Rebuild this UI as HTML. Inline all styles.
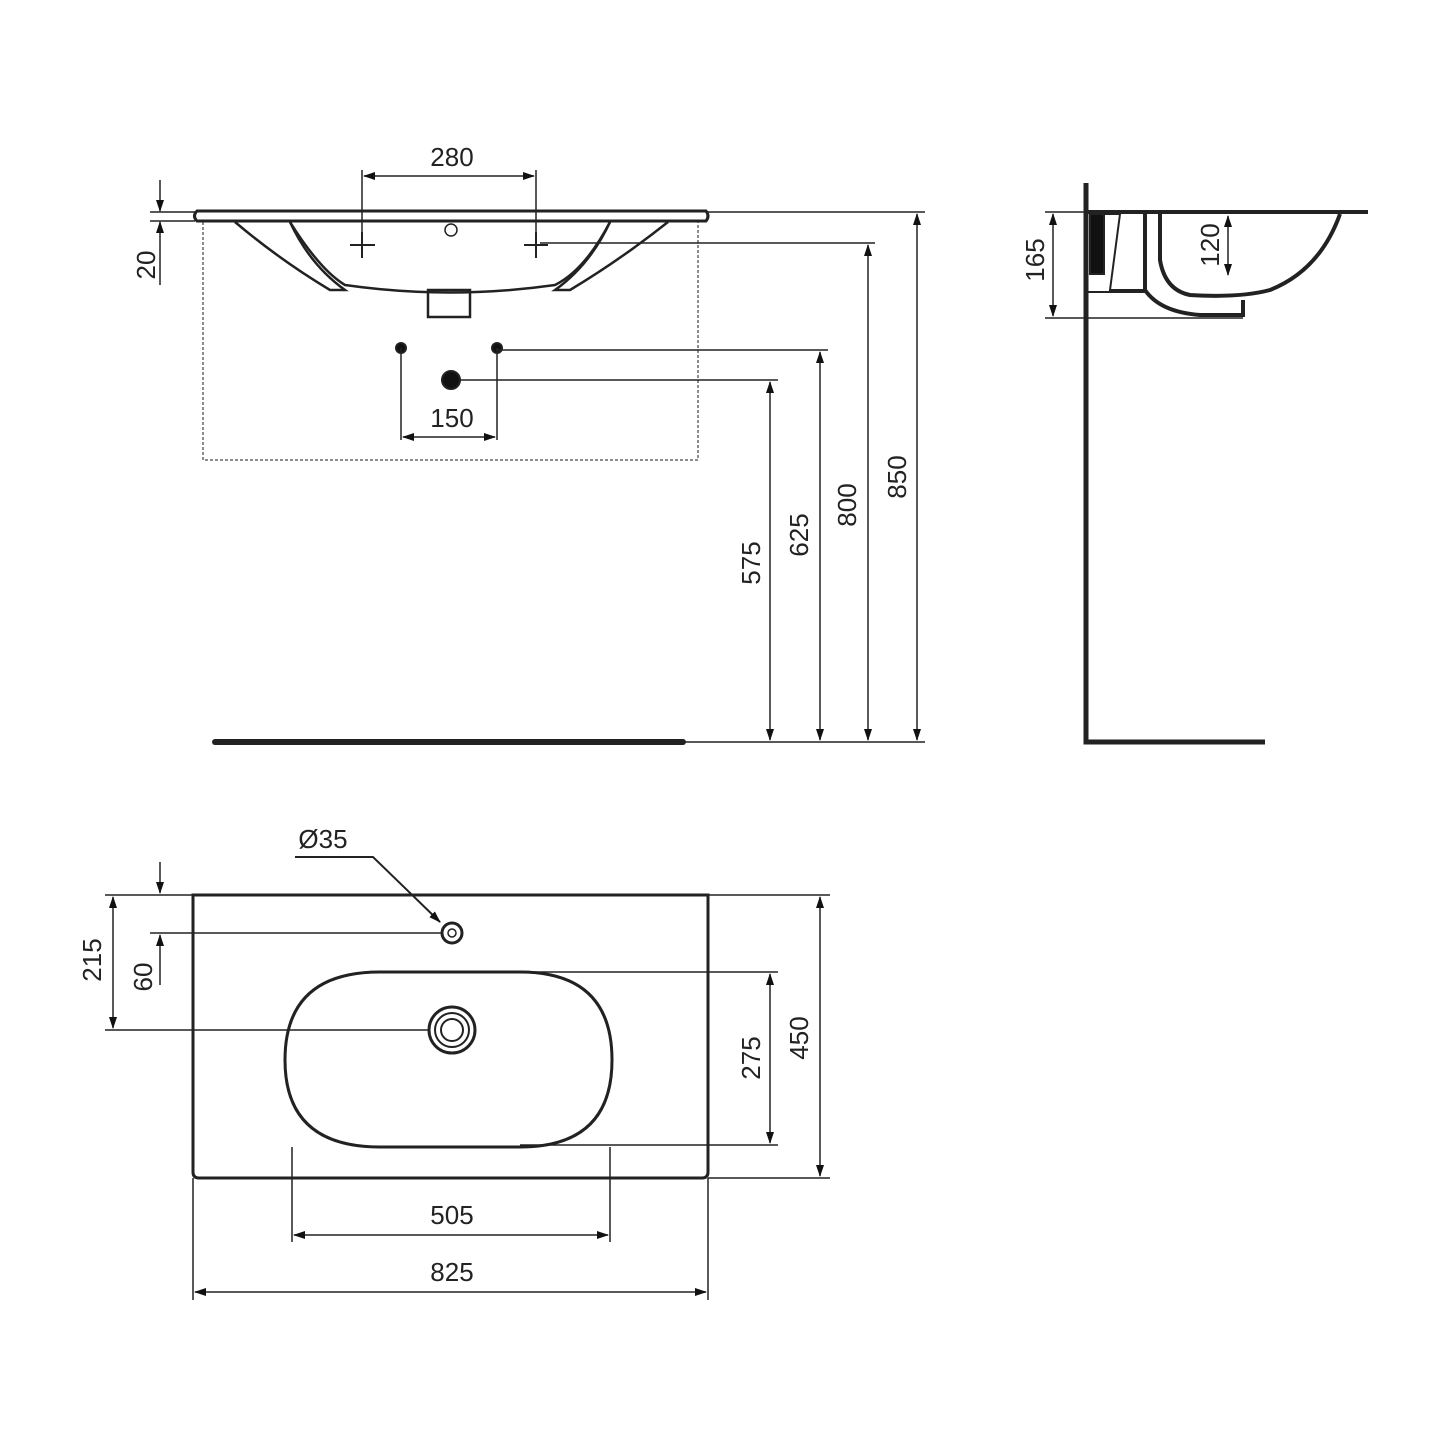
<!DOCTYPE html>
<html><head><style>body{margin:0;background:#fff}svg{display:block}</style></head>
<body>
<svg width="1445" height="1445" viewBox="0 0 1445 1445" xmlns="http://www.w3.org/2000/svg" font-family="Liberation Sans, sans-serif" font-size="26" fill="none" stroke="#222">
<defs>
<marker id="a" markerWidth="12" markerHeight="8" refX="11" refY="4" orient="auto-start-reverse" markerUnits="userSpaceOnUse"><path d="M0,0 L12,4 L0,8Z" fill="#111" stroke="none"/></marker>
</defs>
<g stroke-width="2">
<!-- TOP VIEW -->
<rect x="203" y="220" width="495" height="240" stroke-dasharray="3,2" stroke="#666" stroke-width="1.5"/>
<path d="M197,211 H706 Q710,216 706,221 H197 Q192,216 197,211Z" stroke-width="3" fill="#fff"/>
<path d="M235,222 Q280,260 330,290 L345,290 Q310,265 290,222" stroke-width="2.5"/>
<path d="M668,222 Q620,260 570,290 L555,290 Q590,265 610,222" stroke-width="2.5"/>
<path d="M290,222 Q320,270 345,285 Q450,300 555,285 Q585,270 610,222" stroke-width="2.5"/>
<rect x="428" y="290" width="42" height="27" stroke-width="2.5"/>
<circle cx="451" cy="230" r="6" stroke-width="1.5"/>
<path d="M350,245 H375 M362,232 V258 M524,245 H548 M536,232 V258"/>
<circle cx="401" cy="348" r="5" fill="#111"/><circle cx="497" cy="348" r="5" fill="#111"/>
<circle cx="451" cy="380" r="9" fill="#111"/>
<path d="M401,348 V440 M497,348 V440" stroke-width="1.5"/>
<path d="M403,437 H495" marker-start="url(#a)" marker-end="url(#a)" stroke-width="1.5"/>
<path d="M362,170 V258 M536,170 V258" stroke-width="1.5"/>
<path d="M364,176 H534" marker-start="url(#a)" marker-end="url(#a)" stroke-width="1.5"/>
<!-- 20 -->
<path d="M150,212 H195 M150,221 H195" stroke-width="1.5"/>
<path d="M160,180 V211" marker-end="url(#a)" stroke-width="1.5"/>
<path d="M160,285 V222" marker-end="url(#a)" stroke-width="1.5"/>
<!-- extension lines -->
<path d="M708,212 H925 M540,243 H875 M497,350 H828 M460,380 H778 M683,742 H925" stroke-width="1.5"/>
<path d="M917,214 V740" marker-start="url(#a)" marker-end="url(#a)" stroke-width="1.5"/>
<path d="M868,245 V740" marker-start="url(#a)" marker-end="url(#a)" stroke-width="1.5"/>
<path d="M820,352 V740" marker-start="url(#a)" marker-end="url(#a)" stroke-width="1.5"/>
<path d="M770,382 V740" marker-start="url(#a)" marker-end="url(#a)" stroke-width="1.5"/>
<path d="M215,742 H683" stroke-width="6" stroke-linecap="round"/>
<!-- SIDE VIEW -->
<path d="M1086,183 V742 H1265" stroke-width="5"/>
<path d="M1088,212 H1368" stroke-width="4"/>
<path d="M1340,214 Q1320,270 1270,290 Q1240,298 1190,295 Q1165,290 1160,260 V214" stroke-width="4"/>
<path d="M1145,214 V290 Q1160,312 1200,315 H1243 V300" stroke-width="4"/>
<path d="M1090,214 H1120 L1110,290 H1145 M1088,292 H1145" stroke-width="2"/>
<rect x="1090" y="214" width="14" height="60" fill="#111"/>
<path d="M1045,212 H1086 M1045,318 H1243" stroke-width="1.5"/>
<path d="M1053,214 V316" marker-start="url(#a)" marker-end="url(#a)" stroke-width="1.5"/>
<path d="M1228,216 V275" marker-start="url(#a)" marker-end="url(#a)" stroke-width="1.5"/>
<!-- PLAN VIEW -->
<path d="M193,895 H708 V1172 Q708,1178 702,1178 H199 Q193,1178 193,1172Z" stroke-width="3"/>
<path d="M380,972 H520 Q612,972 612,1060 Q612,1147 520,1147 H380 Q285,1147 285,1060 Q285,972 380,972Z" stroke-width="3"/>
<circle cx="452" cy="933" r="10" stroke-width="3"/><circle cx="452" cy="933" r="4" stroke-width="1.5"/>
<circle cx="452" cy="1030" r="23" stroke-width="3"/><circle cx="452" cy="1030" r="17" stroke-width="2"/><circle cx="452" cy="1030" r="11" stroke-width="2"/>
<path d="M295,857 H373 L440,922" stroke-width="2" marker-end="url(#a)"/>
<path d="M150,933 H442 M105,1030 H428 M105,895 H193 M708,895 H830 M708,1178 H830 M520,972 H778 M520,1145 H778" stroke-width="1.5"/>
<path d="M160,862 V893" marker-end="url(#a)" stroke-width="1.5"/>
<path d="M160,985 V935" marker-end="url(#a)" stroke-width="1.5"/>
<path d="M113,897 V1028" marker-start="url(#a)" marker-end="url(#a)" stroke-width="1.5"/>
<path d="M820,897 V1176" marker-start="url(#a)" marker-end="url(#a)" stroke-width="1.5"/>
<path d="M770,974 V1143" marker-start="url(#a)" marker-end="url(#a)" stroke-width="1.5"/>
<path d="M292,1147 V1242 M610,1147 V1242 M193,1178 V1300 M708,1178 V1300" stroke-width="1.5"/>
<path d="M294,1235 H608" marker-start="url(#a)" marker-end="url(#a)" stroke-width="1.5"/>
<path d="M195,1292 H706" marker-start="url(#a)" marker-end="url(#a)" stroke-width="1.5"/>
</g>
<g fill="#222" stroke="none" text-anchor="middle">
<text x="452" y="166">280</text>
<text x="452" y="427">150</text>
<text x="155" y="265" transform="rotate(-90 155 265)">20</text>
<text x="906" y="477" transform="rotate(-90 906 477)">850</text>
<text x="856" y="505" transform="rotate(-90 856 505)">800</text>
<text x="808" y="535" transform="rotate(-90 808 535)">625</text>
<text x="760" y="563" transform="rotate(-90 760 563)">575</text>
<text x="1044" y="260" transform="rotate(-90 1044 260)">165</text>
<text x="1219" y="245" transform="rotate(-90 1219 245)">120</text>
<text x="323" y="848">Ø35</text>
<text x="101" y="960" transform="rotate(-90 101 960)">215</text>
<text x="152" y="977" transform="rotate(-90 152 977)">60</text>
<text x="808" y="1038" transform="rotate(-90 808 1038)">450</text>
<text x="760" y="1058" transform="rotate(-90 760 1058)">275</text>
<text x="452" y="1224">505</text>
<text x="452" y="1281">825</text>
</g>
</svg>
</body></html>
